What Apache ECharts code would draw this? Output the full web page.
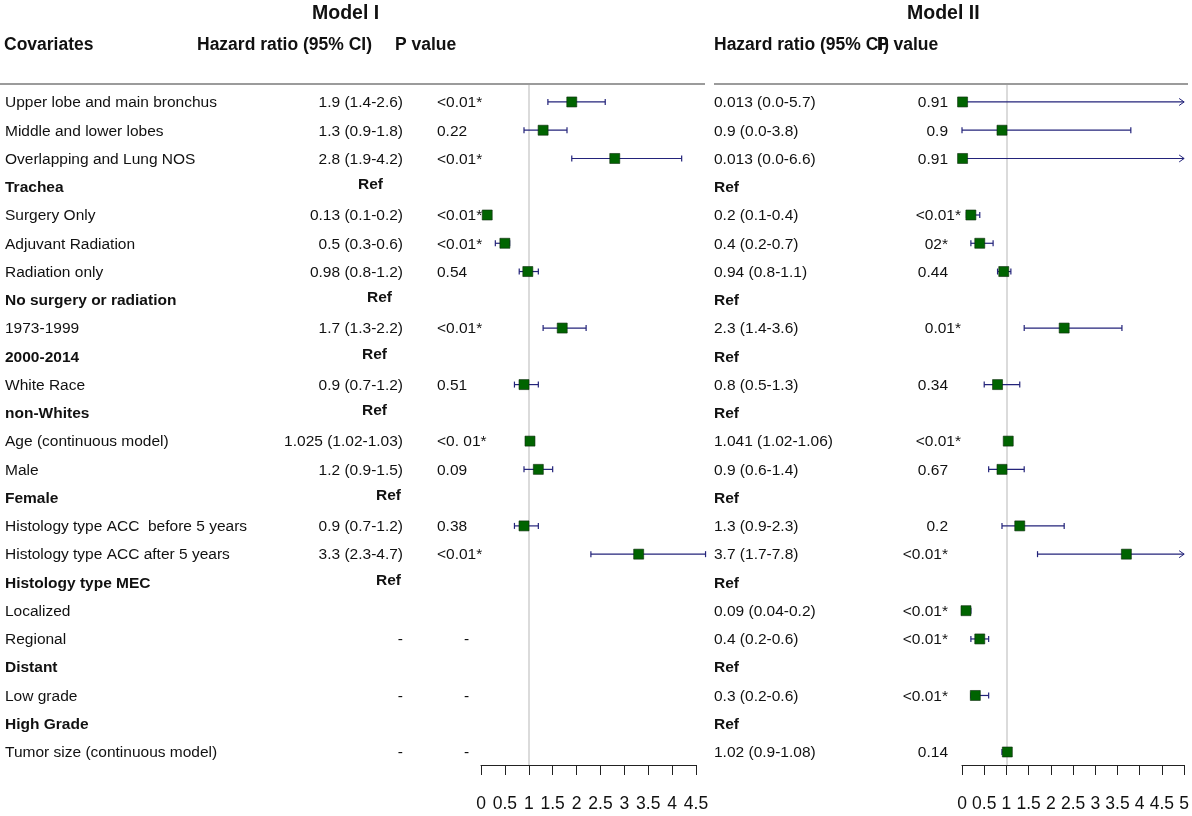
<!DOCTYPE html>
<html>
<head>
<meta charset="utf-8">
<script src="https://cdn.jsdelivr.net/npm/echarts@6/dist/echarts.min.js"></script>
<style>
  html, body { margin: 0; padding: 0; background: #fff; }
  #main { width: 1192px; height: 816px; }
</style>
</head>
<body>
<div id="main"></div>
<script>
// rows of the table, top to bottom
const covariates = [
  'Upper lobe and main bronchus', 'Middle and lower lobes', 'Overlapping and Lung NOS', 'Trachea',
  'Surgery Only', 'Adjuvant Radiation', 'Radiation only', 'No surgery or radiation',
  '1973-1999', '2000-2014', 'White Race', 'non-Whites',
  'Age (continuous model)', 'Male', 'Female', 'Histology type ACC  before 5 years',
  'Histology type ACC after 5 years', 'Histology type MEC', 'Localized', 'Regional',
  'Distant', 'Low grade', 'High Grade', 'Tumor size (continuous model)'
];
const refRows = [3, 7, 9, 11, 14, 17, 20, 22];

// Model I
const hrTextI = ['1.9 (1.4-2.6)', '1.3 (0.9-1.8)', '2.8 (1.9-4.2)', 'Ref', '0.13 (0.1-0.2)', '0.5 (0.3-0.6)',
  '0.98 (0.8-1.2)', 'Ref', '1.7 (1.3-2.2)', 'Ref', '0.9 (0.7-1.2)', 'Ref', '1.025 (1.02-1.03)', '1.2 (0.9-1.5)',
  'Ref', '0.9 (0.7-1.2)', '3.3 (2.3-4.7)', 'Ref', '', '-', '', '-', '', '-'];
const pTextI = ['<0.01*', '0.22', '<0.01*', '', '<0.01*', '<0.01*', '0.54', '', '<0.01*', '', '0.51', '',
  '<0. 01*', '0.09', '', '0.38', '<0.01*', '', '', '-', '', '-', '', '-'];
const hrI = [1.9, 1.3, 2.8, null, 0.13, 0.5, 0.98, null, 1.7, null, 0.9, null, 1.025, 1.2, null, 0.9, 3.3,
  null, null, null, null, null, null, null];
const loI = [1.4, 0.9, 1.9, null, 0.1, 0.3, 0.8, null, 1.3, null, 0.7, null, 1.02, 0.9, null, 0.7, 2.3,
  null, null, null, null, null, null, null];
const hiI = [2.6, 1.8, 4.2, null, 0.2, 0.6, 1.2, null, 2.2, null, 1.2, null, 1.03, 1.5, null, 1.2, 4.7,
  null, null, null, null, null, null, null];

// Model II
const hrTextII = ['0.013 (0.0-5.7)', '0.9 (0.0-3.8)', '0.013 (0.0-6.6)', 'Ref', '0.2 (0.1-0.4)', '0.4 (0.2-0.7)',
  '0.94 (0.8-1.1)', 'Ref', '2.3 (1.4-3.6)', 'Ref', '0.8 (0.5-1.3)', 'Ref', '1.041 (1.02-1.06)', '0.9 (0.6-1.4)',
  'Ref', '1.3 (0.9-2.3)', '3.7 (1.7-7.8)', 'Ref', '0.09 (0.04-0.2)', '0.4 (0.2-0.6)', 'Ref', '0.3 (0.2-0.6)',
  'Ref', '1.02 (0.9-1.08)'];
const pTextII = ['0.91', '0.9', '0.91', '', '<0.01*', '02*', '0.44', '', '0.01*', '', '0.34', '',
  '<0.01*', '0.67', '', '0.2', '<0.01*', '', '<0.01*', '<0.01*', '', '<0.01*', '', '0.14'];
const hrII = [0.013, 0.9, 0.013, null, 0.2, 0.4, 0.94, null, 2.3, null, 0.8, null, 1.041, 0.9, null, 1.3, 3.7,
  null, 0.09, 0.4, null, 0.3, null, 1.02];
const loII = [0.0, 0.0, 0.0, null, 0.1, 0.2, 0.8, null, 1.4, null, 0.5, null, 1.02, 0.6, null, 0.9, 1.7,
  null, 0.04, 0.2, null, 0.2, null, 0.9];
const hiII = [5.7, 3.8, 6.6, null, 0.4, 0.7, 1.1, null, 3.6, null, 1.3, null, 1.06, 1.4, null, 2.3, 7.8,
  null, 0.2, 0.6, null, 0.6, null, 1.08];

const FONT = '"Liberation Sans", Arial, sans-serif';
const FS = 15.5;
const HFS = 17.5;
const CLIP = 5;          // CIs beyond this get an arrow
const refXI = { 3: 358, 7: 367, 9: 362, 11: 362, 14: 376, 17: 376 };
const pShiftII = [4, 8, 12];

function txt(text, x, y, align, bold, size) {
  return {
    type: 'text',
    style: {
      text: text, x: x, y: y + 1, fill: '#111',
      align: align, verticalAlign: 'middle',
      fontFamily: FONT, fontSize: size || FS, fontWeight: bold ? 'bold' : 'normal'
    }
  };
}

// CI whisker + box for one row
function ciShapes(api, hr, lo, hi, row) {
  if (hr == null) return [];
  const y = api.coord([0, row])[1];
  const xm = api.coord([hr, row])[0];
  const xl = api.coord([lo, row])[0];
  const arrow = hi > CLIP;
  const xh = api.coord([arrow ? CLIP : hi, row])[0];
  const ln = { stroke: '#23237a', lineWidth: 1.2 };
  const out = [
    { type: 'line', shape: { x1: xl, y1: y, x2: xh, y2: y }, style: ln },
    { type: 'line', shape: { x1: xl, y1: y - 3, x2: xl, y2: y + 3 }, style: ln }
  ];
  if (arrow) {
    out.push({ type: 'polyline', shape: { points: [[xh - 5, y - 3.5], [xh, y], [xh - 5, y + 3.5]] },
      style: { stroke: '#23237a', lineWidth: 1, fill: 'none' } });
  } else {
    out.push({ type: 'line', shape: { x1: xh, y1: y - 3, x2: xh, y2: y + 3 }, style: ln });
  }
  out.push({ type: 'rect', shape: { x: xm - 5, y: y - 5, width: 10, height: 10 },
    style: { fill: '#006400', stroke: '#0b2a0b', lineWidth: 0.6 } });
  return out;
}

function renderI(params, api) {
  const i = api.value(1);
  const y = api.coord([0, i])[1];
  const bold = refRows.indexOf(i) >= 0;
  const kids = [txt(covariates[i], 5, y, 'left', bold)];
  const hrT = hrTextI[i];
  if (hrT === 'Ref') kids.push(txt('Ref', refXI[i], y - 3, 'left', true));
  else if (hrT) kids.push(txt(hrT, 403, y, 'right', false));
  const pT = pTextI[i];
  if (pT === '-') kids.push(txt(pT, 464, y, 'left', false));
  else if (pT) kids.push(txt(pT, 437, y, 'left', false));
  return { type: 'group', children: kids.concat(ciShapes(api, hrI[i], loI[i], hiI[i], i)) };
}

function renderII(params, api) {
  const i = api.value(1);
  const y = api.coord([0, i])[1];
  const kids = [];
  const hrT = hrTextII[i];
  if (hrT === 'Ref') kids.push(txt('Ref', 714, y, 'left', true));
  else kids.push(txt(hrT, 714, y, 'left', false));
  const pT = pTextII[i];
  if (pT) kids.push(txt(pT, pShiftII.indexOf(i) >= 0 ? 961 : 948, y, 'right', false));
  return { type: 'group', children: kids.concat(ciShapes(api, hrII[i], loII[i], hiII[i], i)) };
}

const rowData = covariates.map((c, i) => [0, i]);

function xAxisOf(idx, max) {
  return {
    gridIndex: idx, type: 'value', min: 0, max: max, interval: 0.5, position: 'bottom',
    axisLine: { show: true, onZero: false, lineStyle: { color: '#222', width: 1 } },
    axisTick: { show: true, length: 10, lineStyle: { color: '#222', width: 1 } },
    axisLabel: { color: '#111', fontSize: 17.5, fontFamily: FONT, margin: 30, showMaxLabel: true, showMinLabel: true },
    splitLine: { show: false }
  };
}
function yAxisOf(idx) {
  return { gridIndex: idx, type: 'value', min: -0.6, max: 23.46, inverse: true, show: false };
}
function refLine(idx) {
  return {
    type: 'line', xAxisIndex: idx, yAxisIndex: idx, data: [], z: 1, silent: true,
    markLine: {
      silent: true, symbol: 'none', animation: false, z: 1,
      label: { show: false },
      lineStyle: { color: '#cfcfcf', type: 'solid', width: 1.5 },
      data: [{ xAxis: 1 }]
    }
  };
}

const chart = echarts.init(document.getElementById('main'));
chart.setOption({
  animation: false,
  backgroundColor: '#fff',
  grid: [
    { left: 481, width: 215, top: 85, height: 680 },
    { left: 962, width: 225, top: 85, height: 680 }
  ],
  xAxis: [xAxisOf(0, 4.5), xAxisOf(1, 5)],
  yAxis: [yAxisOf(0), yAxisOf(1)],
  graphic: [
    { type: 'text', left: 312, top: 4, style: { text: 'Model I', fill: '#111', font: 'bold 19.5px ' + FONT } },
    { type: 'text', left: 907, top: 4, style: { text: 'Model II', fill: '#111', font: 'bold 19.5px ' + FONT } },
    { type: 'text', left: 4, top: 36, style: { text: 'Covariates', fill: '#111', font: 'bold ' + HFS + 'px ' + FONT } },
    { type: 'text', left: 197, top: 36, style: { text: 'Hazard ratio (95% CI)', fill: '#111', font: 'bold ' + HFS + 'px ' + FONT } },
    { type: 'text', left: 395, top: 36, style: { text: 'P value', fill: '#111', font: 'bold ' + HFS + 'px ' + FONT } },
    { type: 'text', left: 714, top: 36, style: { text: 'Hazard ratio (95% CI)', fill: '#111', font: 'bold ' + HFS + 'px ' + FONT } },
    { type: 'text', left: 877, top: 36, style: { text: 'P value', fill: '#111', font: 'bold ' + HFS + 'px ' + FONT } },
    { type: 'line', shape: { x1: 0, y1: 84, x2: 705, y2: 84 }, style: { stroke: '#7a7a7a', lineWidth: 1.6 } },
    { type: 'line', shape: { x1: 714, y1: 84, x2: 1188, y2: 84 }, style: { stroke: '#7a7a7a', lineWidth: 1.6 } }
  ],
  series: [
    refLine(0),
    refLine(1),
    { type: 'custom', xAxisIndex: 0, yAxisIndex: 0, z: 3, clip: false, silent: true,
      data: rowData, renderItem: renderI },
    { type: 'custom', xAxisIndex: 1, yAxisIndex: 1, z: 3, clip: false, silent: true,
      data: rowData, renderItem: renderII }
  ]
});
</script>
</body>
</html>
